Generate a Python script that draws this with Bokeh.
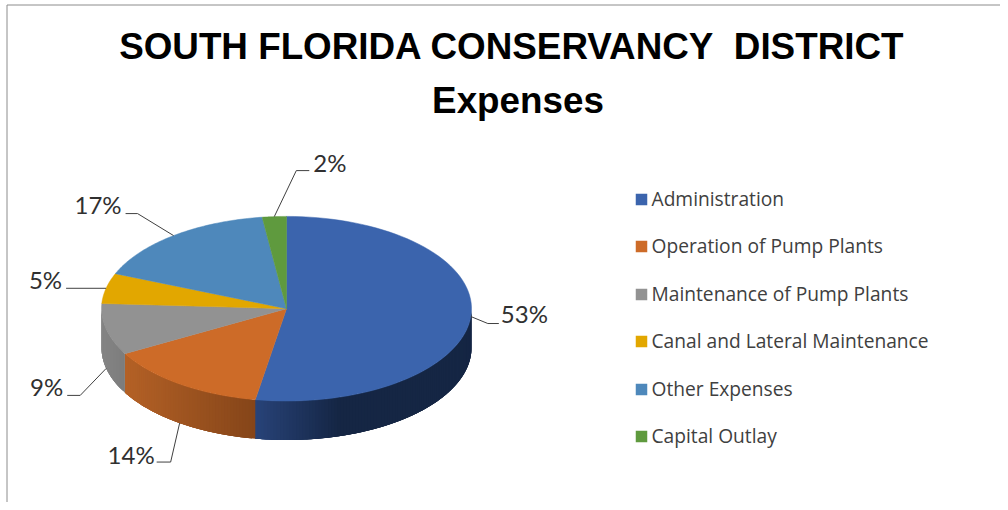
import numpy as np
from bokeh.plotting import figure
from bokeh.core.properties import value
from bokeh.embed import file_html
from bokeh.resources import INLINE

title_lines = ["SOUTH FLORIDA CONSERVANCY\u00a0 DISTRICT", "Expenses"]
categories = ["Administration", "Operation of Pump Plants", "Maintenance of Pump Plants",
              "Canal and Lateral Maintenance", "Other Expenses", "Capital Outlay"]
shares = [52.7, 14.2, 9.0, 5.3, 16.7, 2.1]
labels = ["53%", "14%", "9%", "5%", "17%", "2%"]

top_colors = ["#3b64ad", "#cd6b28", "#929292", "#e2a700", "#4e88bb", "#5f9a3e"]
wall_left = ["#284379", "#b46126", "#858585", "#b08300", "#3c6a92", "#4a7830"]
wall_right = ["#152644", "#854519", "#7c7c7c", "#b08300", "#3c6a92", "#4a7830"]

CX, CY, RX, RY, DEPTH = 286.0, 308.2, 185.0, 92.3, 39.0

W, H = 1000, 502
p = figure(width=W, height=H, x_range=(0, W), y_range=(H, 0),
           output_backend="svg", toolbar_location=None, min_border=0,
           x_axis_location=None, y_axis_location=None)
p.grid.visible = False
p.outline_line_color = None
p.background_fill_color = "white"
p.border_fill_color = "white"


def pt(deg, drop=0.0):
    t = np.radians(deg)
    return CX + RX * np.sin(t), CY - RY * np.cos(t) + drop


def hex_mix(a, b, f):
    ca = [int(a[i:i + 2], 16) for i in (1, 3, 5)]
    cb = [int(b[i:i + 2], 16) for i in (1, 3, 5)]
    return "#%02x%02x%02x" % tuple(int(round(x + (y - x) * f)) for x, y in zip(ca, cb))


edges = np.concatenate([[0.0], np.cumsum(shares)]) * 3.6

# side wall: overlapping strips painted in order, so no seams show
for i in range(len(shares)):
    a0, a1 = max(edges[i], 90.0), min(edges[i + 1], 270.0)
    if a1 <= a0:
        continue
    x_lo, x_hi = pt(a1)[0], pt(a0)[0]
    steps = np.arange(a0, a1, 1.0).tolist() + [a1]
    for s0, s1 in zip(steps[:-1], steps[1:]):
        arc = np.linspace(s0, min(s1 + 3.0, a1), 6)
        ax, ay = pt(arc)
        f = ((pt(s0)[0] + pt(s1)[0]) / 2 - min(x_lo, x_hi)) / max(abs(x_hi - x_lo), 1)
        if i == 0:
            f = min(f * 2.6, 1.0)  # blue wall reaches its dark tone early
        p.patch(np.r_[ax, ax[::-1]], np.r_[ay, ay[::-1] + DEPTH],
                fill_color=hex_mix(wall_left[i], wall_right[i], f), line_color=None)

# top face
for i in range(len(shares)):
    angs = np.linspace(edges[i], edges[i + 1], 80)
    px, py = pt(angs)
    p.patch(np.r_[CX, px], np.r_[CY, py], fill_color=top_colors[i],
            line_color=top_colors[i], line_width=0.5)

# leader lines: (on wall?, elbow offset, tail offset) from the slice's mid-angle
leader_layout = [(0, (17, 7), (28, 7)), (1, (-9, 39), (-23, 39)), (1, (-26, 27), (-39, 27)),
                 (0, (-40, 0), (-40, 0)), (0, (-36, -22), (-48, -22)), (0, (22, -46), (35, -46))]
label_offset = [(2, -10), (-2, -8), (-4, -9), (-4, -9), (-4, -9), (4, -8)]
lx, ly = [], []
for i, (wall, e, t) in enumerate(leader_layout):
    mid = (edges[i] + edges[i + 1]) / 2
    x0, y0 = pt(mid, DEPTH if wall else 0.0)
    lx.append([x0, x0 + e[0], x0 + t[0]])
    ly.append([y0, y0 + e[1], y0 + t[1]])
    right = t[0] > 0
    p.text([x0 + t[0] + label_offset[i][0]], [y0 + t[1] + label_offset[i][1]], text=[labels[i]],
           text_font=value("Lato"), text_font_size="24px", text_color="#303030",
           text_align="left" if right else "right", text_baseline="middle")
p.multi_line(lx, ly, line_color="#404040", line_width=1)

# legend
legend_y = [199, 246, 294, 341, 389, 436]
p.rect([641] * 6, legend_y, width=11.5, height=11.5, fill_color=top_colors, line_color=None)
p.text([651] * 6, [y - 1 for y in legend_y], text=categories, text_font=value("Open Sans"),
       text_font_size="19.2px", text_color="#404040", text_baseline="middle", text_align="left")

# title
p.text([511.5, 517.5], [46, 100], text=title_lines, text_font=value("Liberation Sans"),
       text_font_style="bold", text_font_size="36.8px", text_color="black",
       text_align="center", text_baseline="middle")

# chart frame (top and left edges only)
p.multi_line([[6.5, 6.5], [6.5, W]], [[H, 4.5], [4.5, 4.5]], line_color="#8c8c8c", line_width=1)

open("out.html", "w").write(file_html(p, INLINE))
